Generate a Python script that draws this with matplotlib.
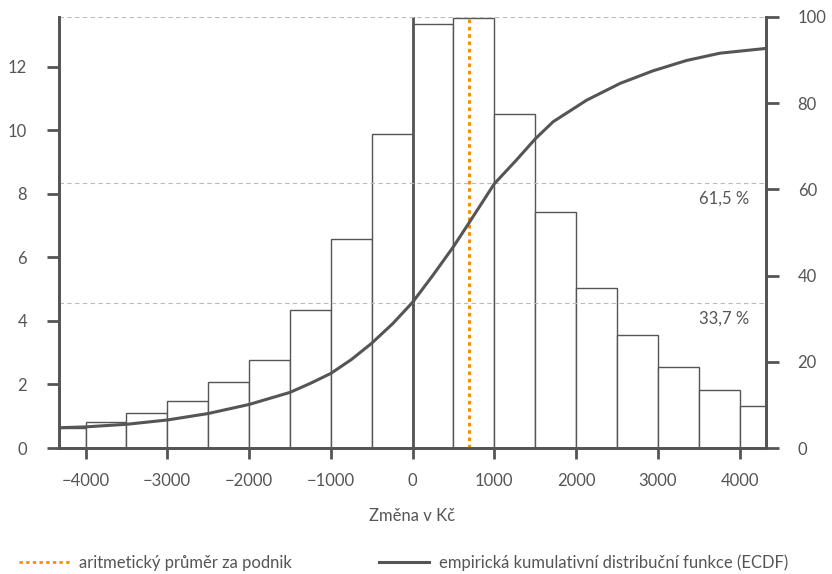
import numpy as np
import matplotlib.pyplot as plt
from matplotlib.lines import Line2D

# histogram: levé hrany intervalů (šířka 500 Kč) a výšky
bin_left = [-4500, -4000, -3500, -3000, -2500, -2000, -1500, -1000, -500,
            0, 500, 1000, 1500, 2000, 2500, 3000, 3500, 4000]
bin_height = [0.62, 0.81, 1.11, 1.47, 2.07, 2.78, 4.33, 6.58, 9.88,
              13.35, 13.54, 10.51, 7.44, 5.05, 3.55, 2.54, 1.84, 1.32]
bin_width = 500

# ECDF (pravá osa, %)
ecdf_x = [-4330, -4000, -3500, -3000, -2500, -2000, -1500, -1250, -1000, -750,
          -500, -240, 0, 250, 500, 700, 1000, 1270, 1500, 1720, 2130, 2540,
          2940, 3350, 3760, 4320]
ecdf_y = [4.7, 4.9, 5.5, 6.5, 8.0, 10.1, 12.9, 15.0, 17.3, 20.5,
          24.3, 28.9, 33.8, 40.1, 46.7, 52.5, 61.3, 66.8, 71.7, 75.7, 80.7, 84.6,
          87.5, 89.9, 91.6, 92.7]

mean_value = 690
ref_levels = [61.5, 33.7]
ref_labels = ['61,5 %', '33,7 %']

x_ticks = [-4000, -3000, -2000, -1000, 0, 1000, 2000, 3000, 4000]
left_ticks = [0, 2, 4, 6, 8, 10, 12]
right_ticks = [0, 20, 40, 60, 80, 100]

dark = '#555555'
orange = '#f39200'
plt.rcParams['font.family'] = ['Lato', 'DejaVu Sans']
fs = 12

fig = plt.figure(figsize=(8.32, 5.74), dpi=100)
ax = fig.add_axes([0.0709, 0.2195, 0.8494, 0.7509])
ax2 = ax.twinx()

ax.set_xlim(-4325, 4320)
ax.set_ylim(0, 13.57)
ax2.set_ylim(0, 100)

ax.bar(bin_left, bin_height, width=bin_width, align='edge', facecolor='white',
       edgecolor=dark, linewidth=1, zorder=2)

# referenční čáry na pravé ose
for lvl in ref_levels + [100]:
    ax2.axhline(lvl, color='#bbbbbb', lw=0.8, ls=(0, (4, 3)), zorder=1)
for lvl, lab in zip(ref_levels, ref_labels):
    ax2.text(4125, lvl - 1.9, lab, ha='right', va='top', fontsize=fs, color=dark)

ax.axvline(0, color=dark, lw=2, zorder=3)
ax.axvline(mean_value, color=orange, lw=2.2, ls=(0, (1.2, 1.2)), zorder=4)

# ECDF kreslena na ax2, takže je nad histogramem
ax2.plot(ecdf_x, ecdf_y, color=dark, lw=2.2, zorder=5)

ax.set_xticks(x_ticks)
ax.set_xticklabels(['\u2212' + str(abs(t)) if t < 0 else str(t) for t in x_ticks])
ax.set_yticks(left_ticks)
ax2.set_yticks(right_ticks)

for a in (ax, ax2):
    a.spines['top'].set_visible(False)
    for s in ('left', 'right', 'bottom'):
        a.spines[s].set_color(dark)
        a.spines[s].set_linewidth(2)
    a.tick_params(colors=dark, labelcolor=dark, width=2, length=9, labelsize=fs)
ax.tick_params(axis='y', pad=14)
ax2.tick_params(axis='y', pad=14)
ax.tick_params(axis='x', length=8, pad=10)

ax.set_xlabel('Změna v Kč', fontsize=fs, color=dark, labelpad=14)

h1 = Line2D([], [], color=orange, lw=2, ls=(0, (1.2, 1.2)))
h2 = Line2D([], [], color=dark, lw=2.2)
fig.legend([h1], ['aritmetický průměr za podnik'], loc='center left',
           bbox_to_anchor=(0.005, 0.02), frameon=False, fontsize=fs,
           handlelength=3.0, handletextpad=0.6, labelcolor=dark)
fig.legend([h2], ['empirická kumulativní distribuční funkce (ECDF)'], loc='center left',
           bbox_to_anchor=(0.438, 0.02), frameon=False, fontsize=fs,
           handlelength=3.0, handletextpad=0.6, labelcolor=dark)

fig.savefig('out.png', dpi=100)
